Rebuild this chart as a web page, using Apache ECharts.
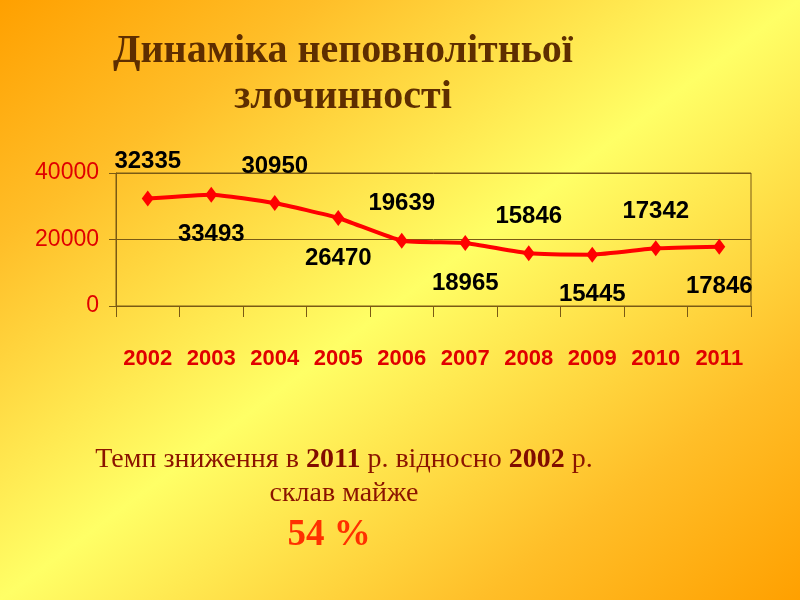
<!DOCTYPE html>
<html>
<head>
<meta charset="utf-8">
<script src="https://cdn.jsdelivr.net/npm/echarts@6/dist/echarts.min.js"></script>
<style>
html,body{margin:0;padding:0;width:800px;height:600px;overflow:hidden;}
#c{width:800px;height:600px;}
</style>
</head>
<body>
<div id="c"></div>
<script>
const years = ['2002','2003','2004','2005','2006','2007','2008','2009','2010','2011'];
const values = [32335, 33493, 30950, 26470, 19639, 18965, 15846, 15445, 17342, 17846];
const yTicks = [0, 20000, 40000];

const sans = "'Liberation Sans',Arial,sans-serif";
const serif = "'Liberation Serif','Times New Roman',serif";
const lineCol = '#7a5a14';

const chart = echarts.init(document.getElementById('c'));
chart.setOption({
  backgroundColor: {
    type: 'linear', x: 112, y: -84, x2: 688, y2: 684, global: true,
    colorStops: [
      {offset: 0, color: '#ffa000'},
      {offset: 0.2, color: '#ffbe28'},
      {offset: 0.5, color: '#ffff66'},
      {offset: 0.8, color: '#ffbe28'},
      {offset: 1, color: '#ffa000'}
    ]
  },
  title: [
    {
      text: 'Динаміка неповнолітньої\nзлочинності',
      left: 338, top: 24, textAlign: 'center',
      textStyle: {fontFamily: serif, fontWeight: 'bold', fontSize: 40, lineHeight: 46, color: '#5e2e00'}
    },
    {
      text: '{n|Темп зниження в }{b|2011}{n| р. відносно }{b|2002}{n| р.}\n{n|склав майже}',
      left: 339, top: 438, textAlign: 'center',
      textStyle: {
        fontWeight: 'normal',
        rich: {
          n: {fontFamily: serif, fontSize: 28, lineHeight: 34, fontWeight: 'normal', color: '#8b1400'},
          b: {fontFamily: serif, fontSize: 28, lineHeight: 34, fontWeight: 'bold', color: '#800c00'}
        }
      }
    },
    {
      text: '54 %',
      left: 324, top: 512, textAlign: 'center',
      textStyle: {fontFamily: serif, fontWeight: 'bold', fontSize: 37, color: '#ff3000'}
    }
  ],
  grid: {left: 116, right: 49, top: 173, bottom: 294, show: true, borderColor: lineCol, borderWidth: 1, backgroundColor: 'transparent'},
  xAxis: {
    type: 'category', data: years, boundaryGap: true,
    axisLine: {show: true, lineStyle: {color: lineCol, width: 1}},
    axisTick: {show: true, length: 11, interval: 0, lineStyle: {color: lineCol}},
    axisLabel: {interval: 0, margin: 42, color: '#e00000', fontFamily: sans, fontWeight: 'bold', fontSize: 22}
  },
  yAxis: {
    type: 'value', min: yTicks[0], max: yTicks[yTicks.length-1], interval: yTicks[1]-yTicks[0],
    axisLine: {show: true, lineStyle: {color: lineCol, width: 1}},
    axisTick: {show: true, length: 7, lineStyle: {color: lineCol}},
    splitLine: {show: true, lineStyle: {color: lineCol, width: 1}},
    axisLabel: {margin: 17, color: '#e00000', fontFamily: sans, fontSize: 23, formatter: v => String(v)}
  },
  series: [{
    type: 'line',
    data: values.map((v, i) => ({value: v, label: {offset: [0, i % 2 === 0 ? -37 : 40]}})),
    smooth: 0.15,
    symbol: 'diamond', symbolSize: [12, 16],
    lineStyle: {color: '#ff0000', width: 4},
    itemStyle: {color: '#ff0000'},
    label: {show: true, position: 'inside', color: '#000', fontFamily: sans, fontWeight: 'bold', fontSize: 24},
    animation: false
  }],
  animation: false
});
</script>
</body>
</html>
